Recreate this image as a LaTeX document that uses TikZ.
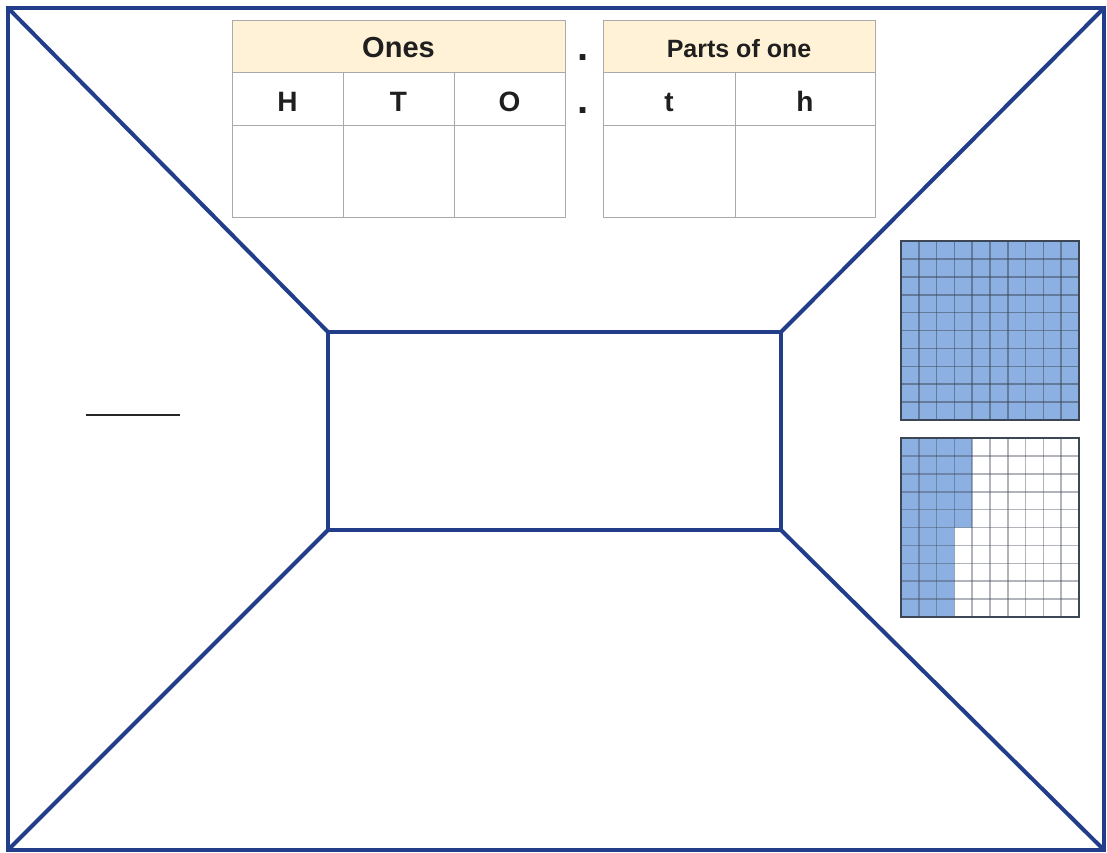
\documentclass[tikz,border=0pt]{standalone}
\usepackage{fontspec}
\setmainfont{Liberation Sans}
\definecolor{frameblue}{RGB}{34,62,138}
\definecolor{headfill}{RGB}{255,242,214}
\definecolor{cellgray}{RGB}{170,170,170}
\definecolor{gridblue}{RGB}{141,176,226}
\definecolor{gridline}{RGB}{60,70,85}
\tikzset{
  frame/.style={draw=frameblue,line width=4pt,line join=miter},
  cell/.style={draw=cellgray,line width=1pt},
  lbl/.style={font=\bfseries\fontsize{28}{32}\selectfont,text=black!88,anchor=base,inner sep=0pt},
  hlbl/.style={font=\bfseries\fontsize{29}{33}\selectfont,text=black!88,anchor=base,inner sep=0pt},
  plbl/.style={font=\bfseries\fontsize{25}{29}\selectfont,text=black!88,anchor=base,inner sep=0pt},
  dotlbl/.style={font=\bfseries\fontsize{40}{44}\selectfont,text=black!88,anchor=base,inner sep=0pt}
}
\begin{document}
\begin{tikzpicture}[x=1pt,y=-1pt]
\useasboundingbox (0,0) rectangle (1107,852);
% frame
\coordinate (A) at (8,8);
\coordinate (B) at (1104,8);
\coordinate (C) at (1104,850);
\coordinate (D) at (8,850);
\coordinate (a) at (328,332);
\coordinate (b) at (781,332);
\coordinate (c) at (781,530);
\coordinate (d) at (328,530);
\draw[frame] (A) -- (B) -- (C) -- (D) -- cycle;
\draw[frame] (a) -- (b) -- (c) -- (d) -- cycle;
\draw[frame] (A) -- (a) (B) -- (b) (C) -- (c) (D) -- (d);
% short line
\coordinate (s1) at (86,415);
\coordinate (s2) at (180,415);
\draw[line width=2.4pt,black!85] (s1) -- (s2);
% tables
\fill[headfill] (232,20) rectangle (565,72);
\fill[headfill] (603,20) rectangle (875,72);
\draw[cell] (232,20) rectangle (565,217);
\draw[cell] (232,72) -- (565,72) (232,125) -- (565,125);
\draw[cell] (343,72) -- (343,217) (454,72) -- (454,217);
\draw[cell] (603,20) rectangle (875,217);
\draw[cell] (603,72) -- (875,72) (603,125) -- (875,125);
\draw[cell] (735,72) -- (735,217);
\node[hlbl] (ones) at (398.5,57) {Ones};
\node[plbl] (parts) at (739,57) {Parts of one};
\node[lbl] (H) at (287.5,111) {H};
\node[lbl] (T) at (398.5,111) {T};
\node[lbl] (O) at (509.5,111) {O};
\node[lbl] (t) at (669,111) {t};
\node[lbl] (h) at (805,111) {h};
\node[dotlbl] (dot1) at (583,60) {.};
\node[dotlbl] (dot2) at (583,113) {.};
% grid 1
\fill[gridblue] (901,241) rectangle (1079,420);
\foreach \i in {1,...,9} {
  \draw[gridline,line width=1.6pt,opacity=0.5] ({901+\i*17.8},241) -- ({901+\i*17.8},420);
  \draw[gridline,line width=1.6pt,opacity=0.5] (901,{241+\i*17.9}) -- (1079,{241+\i*17.9});
}
\draw[gridline,line width=2.6pt] (901,241) rectangle (1079,420);
% grid 2
\fill[gridblue] (901,438) -- (972.2,438) -- (972.2,527.5) -- (954.4,527.5) -- (954.4,617) -- (901,617) -- cycle;
\foreach \i in {1,...,9} {
  \draw[gridline,line width=1.6pt,opacity=0.4] ({901+\i*17.8},438) -- ({901+\i*17.8},617);
  \draw[gridline,line width=1.6pt,opacity=0.4] (901,{438+\i*17.9}) -- (1079,{438+\i*17.9});
}
\draw[gridline,line width=2.6pt] (901,438) rectangle (1079,617);
\end{tikzpicture}
\end{document}
